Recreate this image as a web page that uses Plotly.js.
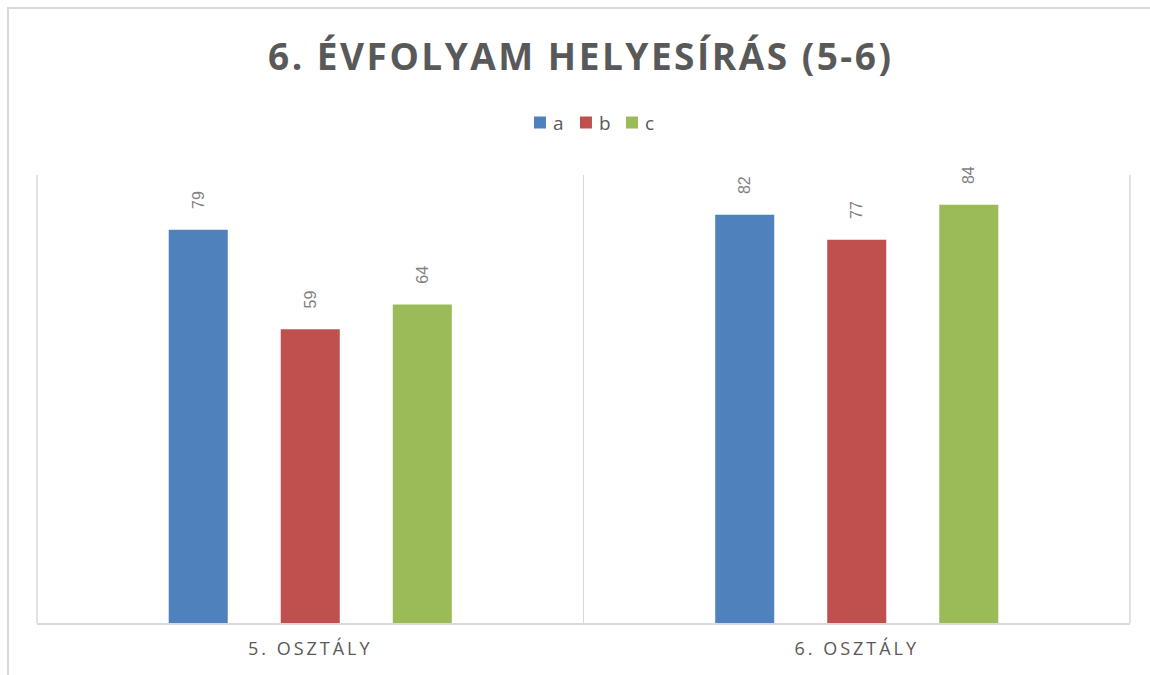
<!DOCTYPE html>
<html>
<head>
<meta charset="utf-8">
<script src="https://cdn.plot.ly/plotly-3.0.1.min.js"></script>
<style>
  html, body { margin: 0; padding: 0; background: #fff; }
  #wrap { position: relative; width: 1150px; height: 675px; overflow: hidden; }
  #frame { position: absolute; left: 7px; top: 7px; width: 1200px; height: 700px;
           border-left: 2px solid #d9d9d9; border-top: 2px solid #d9d9d9; pointer-events: none; }
  #chart { position: absolute; left: 0; top: 0; width: 1150px; height: 675px; }
  .gtitle { letter-spacing: 2.5px; }
  .xtick text { letter-spacing: 3px; }
  .legendtext { transform: translateX(-7px); }
</style>
</head>
<body>
<div id="wrap">
  <div id="chart"></div>
  <div id="frame"></div>
</div>
<script>
const categories = ["5. OSZTÁLY", "6. OSZTÁLY"];
const seriesNames = ["a", "b", "c"];
const valuesA = [79, 82];
const valuesB = [59, 77];
const valuesC = [64, 84];
const colors = ["#4f81bd", "#c0504d", "#9bbb59"];

const pad = "\u00a0\u00a0\u00a0\u00a0";
function mk(name, vals, color) {
  return {
    type: "bar", name: name, x: categories, y: vals,
    marker: { color: color },
    text: vals.map(v => pad + v),
    textposition: "outside", textangle: -90, cliponaxis: false, constraintext: "none",
    textfont: { family: "Liberation Sans, Arial, sans-serif", size: 16, color: "#7f7f7f" },
    hoverinfo: "none"
  };
}
const data = [
  mk(seriesNames[0], valuesA, colors[0]),
  mk(seriesNames[1], valuesB, colors[1]),
  mk(seriesNames[2], valuesC, colors[2])
];
const edgeLine = x => ({ type: "line", xref: "paper", yref: "paper", x0: x, x1: x, y0: 0, y1: 1,
                         line: { color: "#d9d9d9", width: 1.5 }, layer: "below" });
const layout = {
  width: 1150, height: 675,
  margin: { l: 37, r: 20, t: 175, b: 52 },
  paper_bgcolor: "#ffffff", plot_bgcolor: "#ffffff",
  barmode: "group", bargap: 0.385, bargroupgap: 0.473,
  title: { text: "6. ÉVFOLYAM HELYESÍRÁS (5-6)", x: 0.505, xanchor: "center", y: 0.915, yanchor: "middle",
           font: { family: "Open Sans, sans-serif", size: 37, weight: 700, color: "#595959" } },
  showlegend: true,
  legend: { orientation: "h", x: 0.505, xanchor: "center", y: 1.117, yanchor: "middle",
            font: { family: "Open Sans, sans-serif", size: 19, color: "#595959" },
            itemwidth: 30, entrywidth: 1, traceorder: "normal" },
  shapes: [edgeLine(0), edgeLine(1)],
  xaxis: { type: "category", tickson: "boundaries", showgrid: true, gridcolor: "#d9d9d9", gridwidth: 1.5,
           showline: true, linecolor: "#d9d9d9", linewidth: 1.5, ticks: "", mirror: false,
           tickfont: { family: "Open Sans, sans-serif", size: 18, color: "#595959" }, ticklabelstandoff: 9 },
  yaxis: { range: [0, 90], visible: false, showgrid: false, zeroline: false, fixedrange: true }
};
Plotly.newPlot("chart", data, layout, { staticPlot: true, displayModeBar: false });
</script>
</body>
</html>
